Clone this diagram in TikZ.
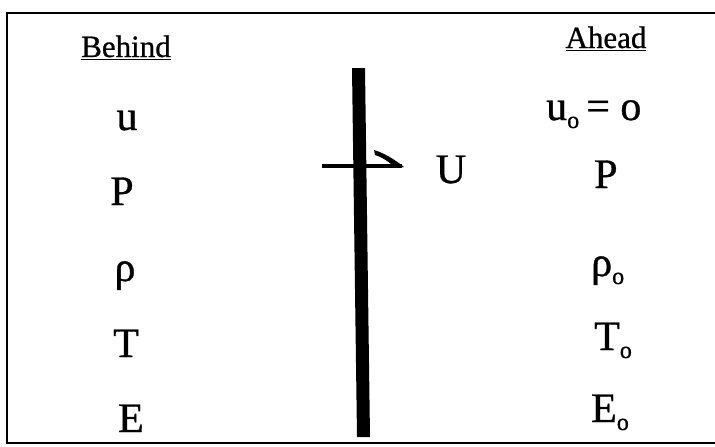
\documentclass[tikz,border=0pt]{standalone}
\usepackage{fontspec}
\setmainfont{Liberation Serif}
\newfontfamily\heavyserif[FakeBold=0.8]{Liberation Serif}
\newcommand{\lowo}{\raisebox{-8pt}{\fontsize{24}{24}\selectfont o}}
\begin{document}
\begin{tikzpicture}[x=1pt,y=-1pt,
  big/.style={inner sep=0pt,anchor=base,font=\heavyserif\fontsize{42}{42}\selectfont},
  bigw/.style={inner sep=0pt,anchor=base west,font=\heavyserif\fontsize{42}{42}\selectfont},
  head/.style={inner sep=0pt,anchor=base,font=\heavyserif\fontsize{31}{31}\selectfont},
  frame/.style={line width=2pt}]
\useasboundingbox (0,0) rectangle (715,447);
% frame
\draw[frame] (715,13) -- (7,13) -- (7,443) -- (715,443);
% headers
\node[head] (behind) at (126,57) {\underline{Behind}};
\node[head] (ahead) at (606,48) {\underline{Ahead}};
% left column
\node[big] (u) at (127,130) {u};
\node[big] (P) at (122,205) {P};
\node[big] (rho) at (125,281) {ρ};
\node[big] (T) at (126,357) {T};
\node[big] (E) at (131,432) {E};
% right column
\node[bigw] (uo) at (546,120) {u\lowo\,= o};
\node[bigw] (Po) at (594,188) {P};
\node[bigw] (rhoo) at (591,276) {ρ\lowo};
\node[bigw] (To) at (594,350) {T\lowo};
\node[bigw] (Eo) at (591,422) {E\lowo};
% shock bar
\fill (352,68) -- (365,68) -- (370,437) -- (357,437) -- cycle;
% velocity arrow
\draw[line width=3.5pt] (322,166) -- (402,166);
\fill (374,150) .. controls (384,153) and (394,159) .. (404,167) -- (396,168) .. controls (389,162) and (382,157) .. (375,155) -- cycle;
\node[big] (U) at (451,183) {U};
\end{tikzpicture}
\end{document}
